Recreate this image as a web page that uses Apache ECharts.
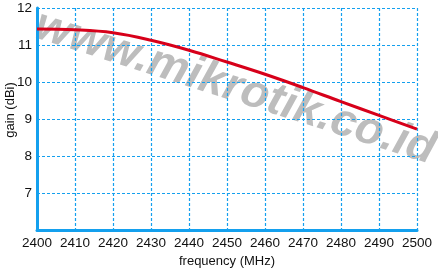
<!DOCTYPE html>
<html>
<head>
<meta charset="utf-8">
<script src="https://cdn.jsdelivr.net/npm/echarts@6/dist/echarts.min.js"></script>
<style>html,body{margin:0;padding:0;background:#fff;}#c{width:438px;height:273px;}</style>
</head>
<body>
<div id="c"></div>
<script>
const frequency = [2400, 2410, 2420, 2430, 2440, 2450, 2460, 2470, 2480, 2490, 2500];
const gain = [11.43, 11.41, 11.33, 11.13, 10.86, 10.54, 10.21, 9.85, 9.47, 9.10, 8.73];
const yTicks = [7, 8, 9, 10, 11, 12];
const watermarkText = 'www.mikrotik.co.id';
const xName = 'frequency (MHz)';
const yName = 'gain (dBi)';

const chart = echarts.init(document.getElementById('c'), null, {renderer: 'canvas'});
const blue = '#14a0ee';
const ff = '"Liberation Sans", Arial, sans-serif';
chart.setOption({
  animation: false,
  backgroundColor: '#ffffff',
  grid: {left: 37, right: 21, top: 8, bottom: 38, containLabel: false},
  graphic: [{
    type: 'text',
    z: 0,
    x: 235, y: 88,
    rotation: -0.31,
    style: {
      text: watermarkText,
      fill: '#bdbdbd',
      font: 'italic bold 46px "Liberation Sans", Arial, sans-serif',
      textAlign: 'center',
      textVerticalAlign: 'middle'
    }
  }, {
    type: 'text',
    z: 5,
    x: 10, y: 110,
    rotation: Math.PI / 2,
    style: {
      text: yName,
      fill: '#111',
      font: '13px "Liberation Sans", Arial, sans-serif',
      textAlign: 'center',
      textVerticalAlign: 'middle'
    }
  }],
  xAxis: {
    type: 'value', min: 2400, max: 2500, interval: 10, z: 1,
    name: xName, nameLocation: 'middle', nameGap: 21,
    nameTextStyle: {color: '#111', fontSize: 13, fontFamily: ff},
    axisLine: {show: true, onZero: false, lineStyle: {color: blue, width: 3}},
    axisTick: {show: false},
    axisLabel: {color: '#111', fontSize: 13.5, margin: 6, fontFamily: ff, formatter: v => String(v)},
    splitLine: {show: true, lineStyle: {color: blue, width: 1.2, type: [3, 2]}}
  },
  yAxis: {
    type: 'value', min: 6, max: 12, interval: 1, z: 1,
    axisLine: {show: true, onZero: false, lineStyle: {color: blue, width: 3}},
    axisTick: {show: false},
    axisLabel: {color: '#111', fontSize: 13.5, margin: 5, fontFamily: ff,
      formatter: v => yTicks.includes(v) ? String(v) : ''},
    splitLine: {show: true, lineStyle: {color: blue, width: 1.2, type: [3, 2]}}
  },
  series: [{
    type: 'line', z: 3,
    data: frequency.map((f, i) => [f, gain[i]]),
    smooth: 0.4,
    showSymbol: false,
    lineStyle: {color: '#d7001a', width: 3}
  }]
});
</script>
</body>
</html>
